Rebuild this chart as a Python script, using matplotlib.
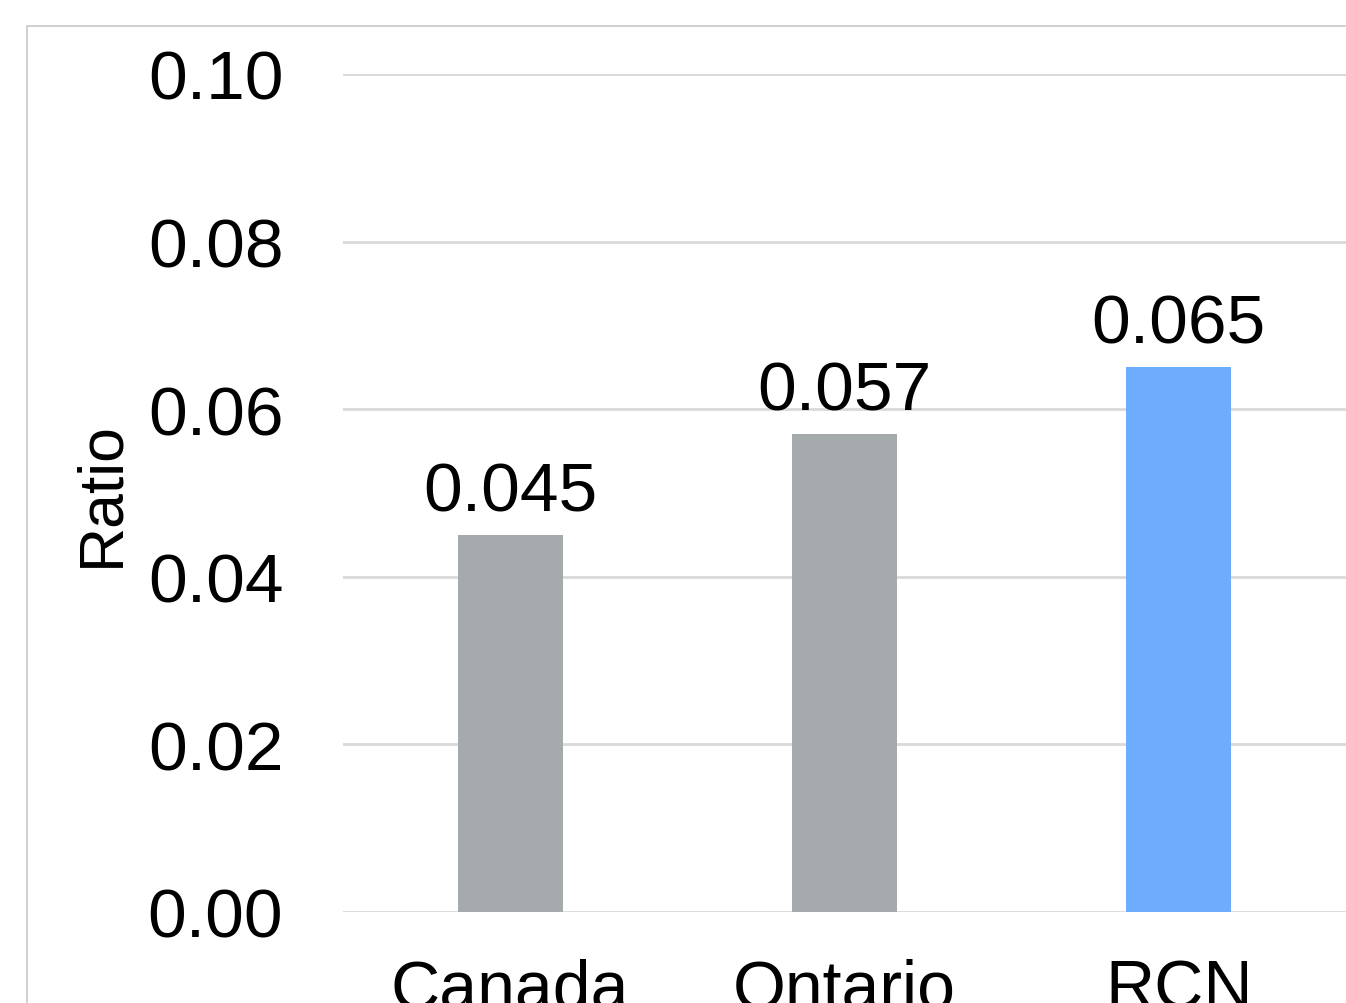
import matplotlib.pyplot as plt
from matplotlib.patches import Rectangle

plt.rcParams['font.family'] = ['Liberation Sans', 'DejaVu Sans']

# data
categories = ['Canada', 'Ontario', 'RCN']
values = [0.045, 0.057, 0.065]
bar_colors = ['#a5abad', '#a5abad', '#6eacfd']
yticks = [0.00, 0.02, 0.04, 0.06, 0.08, 0.10]

fig = plt.figure(figsize=(13.46, 10.04), dpi=100)
ax = fig.add_axes([343 / 1346, 91 / 1004, 1 - 343 / 1346, 838 / 1004])

# outer chart border (runs off the right and bottom edges)
fig.patches.append(Rectangle((27 / 1346, -0.1), 1.2, 1 - 27 / 1004 + 0.1,
                             transform=fig.transFigure, fill=False,
                             edgecolor='#c8c8c8', linewidth=1.2, zorder=0))

x = range(len(categories))
ax.bar(x, values, width=0.314, color=bar_colors, zorder=3)

for xi, v in zip(x, values):
    ax.text(xi, v + 0.0013, '%.3f' % v, ha='center', va='bottom', fontsize=50)

ax.set_xlim(-0.5, 2.5)
ax.set_ylim(0, 0.10)
ax.set_yticks(yticks)
ax.set_yticklabels(['%.2f' % t for t in yticks])
ax.set_xticks(list(x))
ax.set_xticklabels(categories)
ax.tick_params(axis='y', length=0, labelsize=50, pad=43)
ax.tick_params(axis='x', length=0, labelsize=49, pad=33)
ax.grid(axis='y', color='#d9d9d9', linewidth=2, zorder=0)
for s in ax.spines.values():
    s.set_visible(False)

ax.set_ylabel('Ratio', fontsize=45)
ax.yaxis.set_label_coords(-0.211, 0.5)

fig.savefig('out.png', dpi=100)
